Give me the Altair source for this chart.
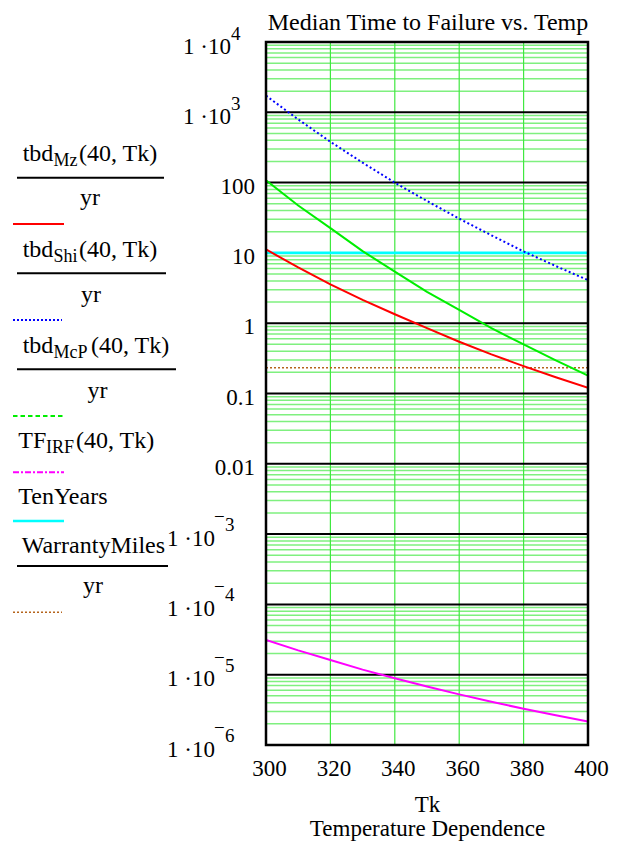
import altair as alt
import pandas as pd

FONT = "Liberation Serif"

# ---------------- data ----------------
temps = [300, 310, 320, 330, 340, 350, 360, 370, 380, 390, 400]
tbd_mz = [11.2, 6.2, 3.56, 2.15, 1.34, 0.85, 0.545, 0.36, 0.245, 0.17, 0.121]
tbd_shi = [1725, 792, 381, 192, 100, 54.7, 30.7, 17.8, 10.5, 6.5, 4.1]
tbd_mcp = [108, 47.3, 22.5, 10.6, 5.4, 2.8, 1.55, 0.85, 0.5, 0.295, 0.18]
tf_irf = [3.13e-5, 2.22e-5, 1.62e-5, 1.18e-5, 8.9e-6, 6.8e-6, 5.25e-6, 4.12e-6, 3.28e-6, 2.65e-6, 2.15e-6]
ten_years = [10, 10]
warranty = [0.233, 0.233]
const_t = [300, 400]

x_ticks = [300, 320, 340, 360, 380, 400]
x_grid = [320, 340, 360, 380]
decades = [1e-6, 1e-5, 1e-4, 1e-3, 0.01, 0.1, 1, 10, 100, 1e3, 1e4]
minor = [m * d for d in decades[:-1] for m in range(2, 10)]

plain_vals = [100, 10, 1, 0.1, 0.01]
plain_text = ["100", "10", "1", "0.1", "0.01"]
pos_vals = [1e4, 1e3]
pos_exp = ["4", "3"]
neg_vals = [1e-3, 1e-4, 1e-5, 1e-6]
neg_exp = ["3", "4", "5", "6"]

W, H = 322, 703

xs = alt.Scale(domain=[300, 400], nice=False, zero=False)
ys = alt.Scale(type="log", domain=[1e-6, 1e4], nice=False)

X = alt.X("T:Q", scale=xs, axis=alt.Axis(
    values=x_ticks, labelFont=FONT, labelFontSize=23, labelColor="black",
    ticks=False, domain=False, grid=False, labelPadding=12, labelOffset=3,
    labelFlush=False, labelOverlap=False,
    title=["Tk", "Temperature Dependence"], titleFont=FONT, titleFontSize=23,
    titleFontWeight="normal", titleColor="black", titlePadding=13,
    titleLineHeight=24))
Y = alt.Y("v:Q", scale=ys, axis=None)

one = pd.DataFrame({"a": [0]})

layers = []

# grid
layers.append(alt.Chart(pd.DataFrame({"v": minor})).mark_rule(
    color="#7ff07f", strokeWidth=1.5).encode(y=Y))
layers.append(alt.Chart(pd.DataFrame({"T": x_grid})).mark_rule(
    color="#40e840", strokeWidth=1.2).encode(x=X))
layers.append(alt.Chart(pd.DataFrame({"v": decades})).mark_rule(
    color="black", strokeWidth=2).encode(y=Y))


def series(tv, vals, color, dash=None, width=2.0):
    kw = dict(color=color, strokeWidth=width, clip=True)
    if dash:
        kw["strokeDash"] = dash
    return alt.Chart(pd.DataFrame({"T": tv, "v": vals})).mark_line(**kw).encode(x=X, y=Y)


layers.append(series(const_t, warranty, "#b5651d", [2, 2], 1.6))
layers.append(series(const_t, ten_years, "#00ffff", None, 2.6))
layers.append(series(temps, tbd_shi, "#0000ff", [2, 2.5], 2.0))
layers.append(series(temps, tbd_mcp, "#00ee00", None, 2.0))
layers.append(series(temps, tbd_mz, "#ff0000", None, 2.0))
layers.append(series(temps, tf_irf, "#ff00ff", None, 2.0))

# frame
layers.append(alt.Chart(one).mark_rect(filled=False, stroke="black", strokeWidth=2.5).encode(
    x=alt.value(0), x2=alt.value(W), y=alt.value(0), y2=alt.value(H)))

# y tick labels
layers.append(alt.Chart(pd.DataFrame({"v": plain_vals, "t": plain_text})).mark_text(
    align="right", baseline="alphabetic", font=FONT, fontSize=23, color="black", dy=11).encode(
    y=Y, x=alt.value(-11), text="t:N"))
layers.append(alt.Chart(pd.DataFrame({"v": pos_vals, "e": pos_exp})).mark_text(
    text="1 ·10", align="right", baseline="alphabetic", font=FONT, fontSize=23, color="black", dy=12).encode(
    y=Y, x=alt.value(-35)))
layers.append(alt.Chart(pd.DataFrame({"v": pos_vals, "e": pos_exp})).mark_text(
    align="left", baseline="alphabetic", font=FONT, fontSize=19, color="black", dy=-2).encode(
    y=Y, x=alt.value(-35), text="e:N"))
layers.append(alt.Chart(pd.DataFrame({"v": neg_vals, "e": neg_exp})).mark_text(
    text="1 ·10", align="right", baseline="alphabetic", font=FONT, fontSize=23, color="black", dy=11.5).encode(
    y=Y, x=alt.value(-51)))
layers.append(alt.Chart(pd.DataFrame({"v": neg_vals, "e": neg_exp})).mark_text(
    text="\u2212", align="left", baseline="alphabetic", font=FONT, fontSize=19, color="black", dy=-11).encode(
    y=Y, x=alt.value(-52)))
layers.append(alt.Chart(pd.DataFrame({"v": neg_vals, "e": neg_exp})).mark_text(
    align="left", baseline="alphabetic", font=FONT, fontSize=19, color="black", dy=-3).encode(
    y=Y, x=alt.value(-41), text="e:N"))


def txt(s, x, y, size=24, align="left"):
    return alt.Chart(one).mark_text(text=s, align=align, baseline="alphabetic", font=FONT,
                                    fontSize=size, color="black").encode(
        x=alt.value(x), y=alt.value(y))


def rule(x1, x2, y, color, dash=None, width=2.0):
    kw = dict(color=color, strokeWidth=width)
    if dash:
        kw["strokeDash"] = dash
    return alt.Chart(one).mark_rule(**kw).encode(x=alt.value(x1), x2=alt.value(x2), y=alt.value(y))


# title
layers.append(txt("Median Time to Failure vs. Temp", W / 2 + 1, -12.5, 24, "center"))

# legend (Mathcad style)
# 1: tbd_Mz / yr
layers += [txt("tbd", -243.3, 118.7), txt("Mz", -212.5, 123.5, 18), txt("(40, Tk)", -187, 118.7),
           rule(-249, -102, 135.7, "black"), txt("yr", -176, 163, 24, "center"),
           rule(-253, -202, 182, "#ff0000")]
# 2: tbd_Shi / yr
layers += [txt("tbd", -243.3, 214.7), txt("Shi", -212.5, 219.5, 18), txt("(40, Tk)", -187, 214.7),
           rule(-249, -100, 231.3, "black"), txt("yr", -175, 259.7, 24, "center"),
           rule(-253, -204, 278, "#0000ff", [2, 2])]
# 3: tbd_McP / yr
layers += [txt("tbd", -243.3, 311.3), txt("McP", -212.5, 316, 18), txt("(40, Tk)", -175, 311.3),
           rule(-249, -90, 327.3, "black"), txt("yr", -168.5, 356, 24, "center"),
           rule(-253, -202, 374, "#00ee00", [4.5, 3])]
# 4: TF_IRF
layers += [txt("TF", -247.7, 406.3), txt("IRF", -220, 410.7, 18), txt("(40, Tk)", -190, 406.3),
           rule(-253, -202, 430.3, "#ff00ff", [6, 2, 2, 2])]
# 5: TenYears
layers += [txt("TenYears", -247.7, 462), rule(-253, -202, 479, "#00ffff", None, 2.5)]
# 6: WarrantyMiles / yr
layers += [txt("WarrantyMiles", -244.3, 511.3), rule(-249, -98, 524, "black"),
           txt("yr", -173, 550.7, 24, "center"), rule(-253, -204, 570.3, "#b5651d", [2, 2], 1.6)]

chart = alt.layer(*layers).properties(
    width=W, height=H,
    padding={"left": 258, "top": 34, "right": 24, "bottom": 96},
    autosize=alt.AutoSizeParams(type="none"),
    background="white",
).configure_view(stroke=None)

chart.save("out.html", embed_options={"renderer": "svg", "actions": False})
